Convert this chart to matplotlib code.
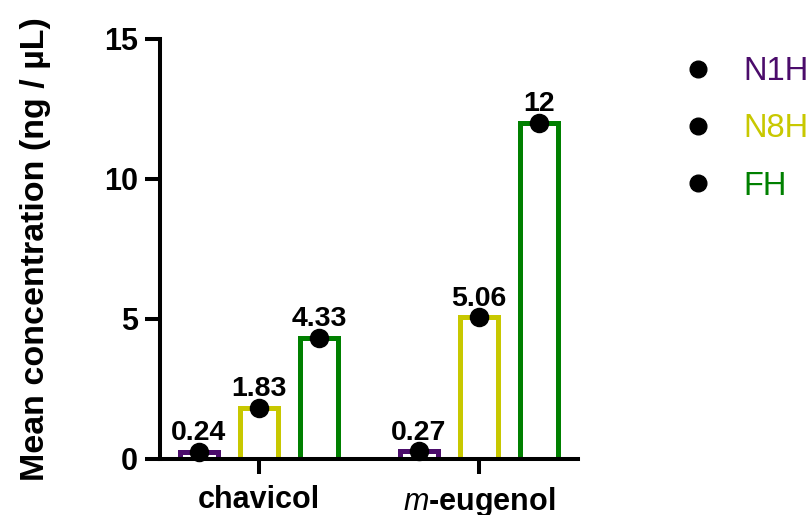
import matplotlib

matplotlib.use("Agg")
import matplotlib.pyplot as plt
from matplotlib.lines import Line2D
import numpy as np

plt.rcParams["font.family"] = ["Liberation Sans", "DejaVu Sans"]
plt.rcParams["mathtext.fontset"] = "custom"
plt.rcParams["mathtext.it"] = "Liberation Sans:italic"
plt.rcParams["mathtext.rm"] = "Liberation Sans:bold"

categories = ["chavicol", "$m$-eugenol"]
groups = ["N1H", "N8H", "FH"]
values = {
    "N1H": [0.24, 0.27],
    "N8H": [1.83, 5.06],
    "FH": [4.33, 12.0],
}
labels = {
    "N1H": ["0.24", "0.27"],
    "N8H": ["1.83", "5.06"],
    "FH": ["4.33", "12"],
}
colors = {"N1H": "#4b0c6b", "N8H": "#c8c800", "FH": "#008000"}

fig = plt.figure(figsize=(8.11, 5.15), dpi=100)
ax = fig.add_axes([160 / 811, 56 / 515, 418 / 811, 420 / 515])

x = np.arange(len(categories))
offsets = [-0.273, 0.0, 0.273]
width = 0.17
for g, off in zip(groups, offsets):
    vals = values[g]
    ax.bar(x + off, vals, width=width, facecolor="white", edgecolor=colors[g],
           linewidth=3.6, zorder=2)
    ax.scatter(x + off, vals, s=170, color="black", zorder=4, clip_on=False)
    for xi, v, lab in zip(x + off, vals, labels[g]):
        ax.annotate(lab, (xi, v), xytext=(0, 8.5), textcoords="offset points",
                    ha="center", va="baseline", fontsize=20.5, fontweight="bold")

ax.set_xlim(-0.45, 1.45)
ax.set_ylim(0, 15)
ax.set_yticks([0, 5, 10, 15])
ax.set_xticks(x)
ax.set_xticklabels(categories, fontsize=22, fontweight="bold")
ax.tick_params(axis="y", labelsize=22, width=2.9, length=11, pad=5)
ax.tick_params(axis="x", width=2.9, length=11, pad=8)
for lab in ax.get_yticklabels():
    lab.set_fontweight("bold")
ax.set_ylabel("Mean concentration (ng / µL)", fontsize=24.5, fontweight="bold", labelpad=38)

for side in ["top", "right"]:
    ax.spines[side].set_visible(False)
for side in ["left", "bottom"]:
    ax.spines[side].set_linewidth(2.9)
    ax.spines[side].set_zorder(5)

handles = [Line2D([], [], marker="o", color="black", linestyle="none", markersize=12)
           for _ in groups]
leg = fig.legend(handles, groups, loc="upper left", bbox_to_anchor=(636 / 811, 1 - 27 / 515),
                 frameon=False, fontsize=23.5, handletextpad=0.4, labelspacing=0.8,
                 labelcolor=[colors[g] for g in groups])

fig.savefig("out.png", dpi=100)
